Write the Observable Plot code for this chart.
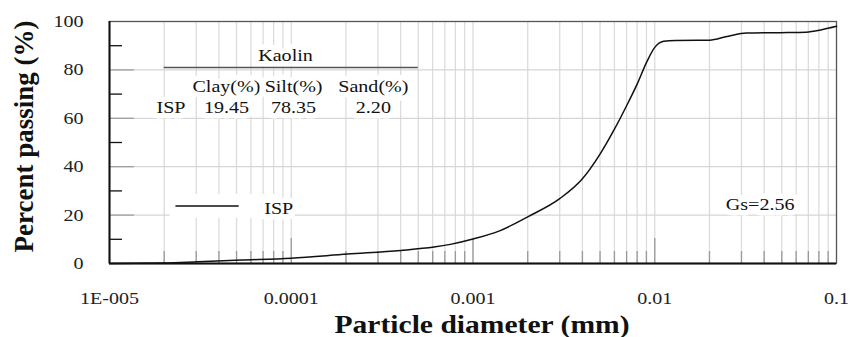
<!DOCTYPE html>
<html><head><meta charset="utf-8">
<script src="https://cdn.jsdelivr.net/npm/d3@7"></script>
<script src="https://cdn.jsdelivr.net/npm/@observablehq/plot@0.6"></script>
<style>
body{margin:0;background:#fff;}
#chart svg{font-family:"Liberation Serif","Times New Roman",serif;background:#fff;}
</style></head><body><div id="chart"></div>
<script>
// Particle size distribution (ISP, kaolin)
const diameter = [1e-5, 2e-5, 3.06e-5, 5.3e-5, 1e-4, 2.04e-4, 4e-4, 6.1e-4, 7.5e-4, 1e-3, 1.4e-3, 2e-3, 3e-3, 4e-3, 5e-3, 6e-3, 7e-3, 8e-3, 9e-3, 1e-2, 1.12e-2, 1.3e-2, 2e-2, 2.5e-2, 3.2e-2, 4.9e-2, 6.8e-2, 8.3e-2, 0.1];
const passing  = [0, 0.2, 0.7, 1.4, 2.2, 3.9, 5.4, 6.8, 7.9, 10.1, 13.5, 19.3, 26.8, 35.0, 45.2, 55.5, 65.2, 74.1, 83, 89.3, 91.8, 92.2, 92.3, 93.8, 95.2, 95.4, 95.6, 96.6, 98];
const seriesName = "ISP";

const xTickValues = [1e-5, 1e-4, 1e-3, 1e-2, 1e-1];
const xTickLabels = ["1E-005", "0.0001", "0.001", "0.01", "0.1"];
const yTickValues = [0, 20, 40, 60, 80, 100];
const yMinorValues = [10, 30, 50, 70, 90];

const tableTitle = "Kaolin";
const tableColumns = ["Clay(%)", "Silt(%)", "Sand(%)"];
const tableRowLabel = "ISP";
const tableValues = ["19.45", "78.35", "2.20"];
const gsLabel = "Gs=2.56";
const xTitle = "Particle diameter (mm)";
const yTitle = "Percent passing (%)";

// annotation anchors (data units)
const tableColX = [4.4e-5, 1.03e-4, 2.83e-4];
const tableRowLabelX = 2.18e-5;
const tableTitleAt = {x: 9.3e-5, y: 85.8};
const tableHeaderY = 73.1;
const tableRowY = 64.3;
const tableRule = {x1: 2e-5, x2: 5e-4, y: 81};
const legendLine = {x1: 2.32e-5, x2: 5.17e-5, y: 23.8};
const legendText = {x: 8.53e-5, y: 22.9};
const gsAt = {x: 0.038, y: 24.5};

const data = diameter.map((d, i) => ({d, p: passing[i]}));
const minorX = d3.scaleLog().domain([1e-5, 0.1]).ticks().filter(v => !xTickValues.some(t => Math.abs(v / t - 1) < 1e-9));

const W = 859, H = 337, mL = 109, mR = 23, mT = 21, mB = 74;
const iw = W - mL - mR, ih = H - mT - mB;
const serif = "'Liberation Serif','Times New Roman',serif";
const FS = 17;

const halo = {stroke: "white", strokeWidth: 11, strokeLinejoin: "round", fill: "#111", fontSize: FS, lineAnchor: "middle"};

const chart = Plot.plot({
  width: W, height: H,
  marginLeft: mL, marginRight: mR, marginTop: mT, marginBottom: mB,
  style: {fontFamily: serif, background: "#fff"},
  x: {type: "log", domain: [1e-5, 0.1], axis: null},
  y: {domain: [0, 100], axis: null},
  marks: [
    // grid
    Plot.ruleX(minorX, {stroke: "#dcdcdc", strokeWidth: 1.3}),
    Plot.ruleX(xTickValues.slice(1, 4), {stroke: "#dcdcdc", strokeWidth: 1.3}),
    Plot.ruleY(yTickValues.slice(1, 5), {stroke: "#d6d6d6", strokeWidth: 1.3}),
    // ticks
    Plot.ruleY(yTickValues.slice(1, 5), {stroke: "#a0a0a0", strokeWidth: 1.3, insetRight: iw - 25}),
    Plot.ruleY(yMinorValues, {stroke: "#111", strokeWidth: 1.3, insetRight: iw - 13}),
    Plot.ruleX(minorX, {stroke: "#9a9a9a", strokeWidth: 1.3, insetTop: ih - 12}),
    Plot.ruleX(xTickValues.slice(1, 4), {stroke: "#9a9a9a", strokeWidth: 1.3, insetTop: ih - 25}),
    // frame
    Plot.frame({stroke: "#555", strokeWidth: 1.3}),
    Plot.ruleX([1e-5], {stroke: "#111", strokeWidth: 2}),
    Plot.ruleY([0], {stroke: "#111", strokeWidth: 2}),
    // curve
    Plot.line(data, {x: "d", y: "p", curve: "monotone-x", stroke: "#111", strokeWidth: 1.5}),
    // table
    Plot.text([tableTitle], {x: tableTitleAt.x, y: tableTitleAt.y, text: d => d, ...halo}),
    Plot.ruleY([tableRule.y], {x1: tableRule.x1, x2: tableRule.x2, stroke: "#555", strokeWidth: 1.5}),
    Plot.text(tableColumns, {x: (d, i) => tableColX[i], y: tableHeaderY, text: d => d, ...halo}),
    Plot.text([tableRowLabel], {x: tableRowLabelX, y: tableRowY, text: d => d, ...halo}),
    Plot.text(tableValues, {x: (d, i) => tableColX[i], y: tableRowY, text: d => d, ...halo}),
    // legend
    Plot.ruleY([legendLine.y], {x1: legendLine.x1 * 0.93, x2: legendText.x, stroke: "white", strokeWidth: 24}),
    Plot.ruleY([legendLine.y], {x1: legendLine.x1, x2: legendLine.x2, stroke: "#111", strokeWidth: 1.5}),
    Plot.text([seriesName], {x: legendText.x, y: legendText.y, text: d => d, ...halo}),
    Plot.text([gsLabel], {x: gsAt.x, y: gsAt.y, text: d => d, ...halo}),
    // tick labels
    Plot.text(xTickValues, {x: d => d, frameAnchor: "bottom", lineAnchor: "middle", dy: 35, text: (d, i) => xTickLabels[i], fontSize: FS, fill: "#222"}),
    Plot.text(yTickValues, {y: d => d, frameAnchor: "left", lineAnchor: "middle", dx: -26, textAnchor: "end", text: d => String(d), fontSize: FS, fill: "#222"}),
    // titles
    Plot.text([xTitle], {frameAnchor: "bottom", lineAnchor: "middle", dy: 61, dx: 9, text: d => d, fontSize: 25.5, fontWeight: "bold", fill: "#111"}),
    Plot.text([yTitle], {frameAnchor: "left", lineAnchor: "middle", textAnchor: "middle", dx: -85, dy: -6, rotate: -90, text: d => d, fontSize: 27, fontWeight: "bold", fill: "#111"})
  ]
});
// the reference's lettering is horizontally widened; widen each label around its anchor
chart.querySelectorAll("text").forEach(t => {
  if (t.textContent === yTitle) return;
  const sx = t.textContent === xTitle ? 1.16 : 1.18;
  const tr = t.getAttribute("transform") || "";
  t.setAttribute("transform", `${tr} scale(${sx},1)`.trim());
});
document.getElementById("chart").append(chart);
</script></body></html>
